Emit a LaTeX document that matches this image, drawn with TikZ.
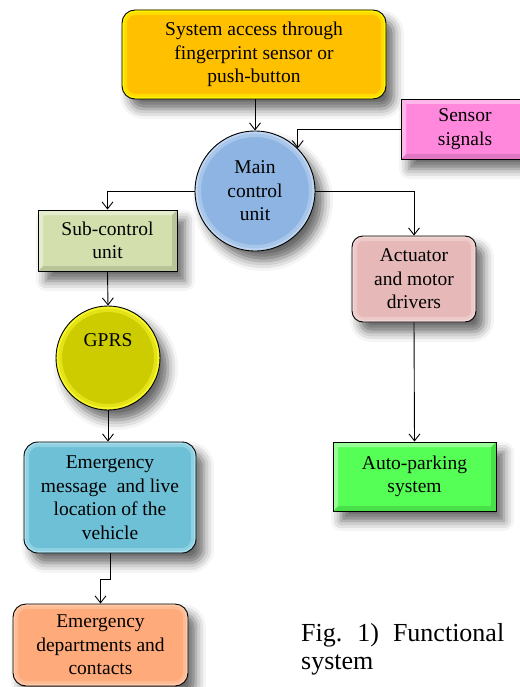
\documentclass[tikz,border=0pt]{standalone}
\usepackage{fontspec}
\setmainfont{Liberation Serif}
\newfontfamily\tnr{Liberation Serif}
\usetikzlibrary{arrows.meta,shadows.blur}
\definecolor{cTop}{HTML}{FFC000}
\definecolor{cTopG}{HTML}{FFFF00}
\definecolor{cSens}{HTML}{FF88DD}
\definecolor{cMain}{HTML}{8DB4E2}
\definecolor{cMainG}{HTML}{C8DCF4}
\definecolor{cSub}{HTML}{D3E0AE}
\definecolor{cGprs}{HTML}{CCCC00}
\definecolor{cGprsG}{HTML}{FFFF33}
\definecolor{cEmsg}{HTML}{6EC0D6}
\definecolor{cEmsgG}{HTML}{B4E6F2}
\definecolor{cDept}{HTML}{FFAA7A}
\definecolor{cDeptG}{HTML}{FFD2B4}
\definecolor{cAct}{HTML}{E6B9B8}
\definecolor{cActG}{HTML}{F6DEDE}
\definecolor{cPark}{HTML}{55FF55}
\begin{document}
\begin{tikzpicture}[x=1pt,y=-1pt,
  shad/.style={blur shadow={shadow xshift=8pt,shadow yshift=-10pt,shadow blur radius=10pt,shadow opacity=60}},
  base/.style={draw=black,line width=0.9pt,align=center,inner sep=0pt,
    font=\tnr\fontsize{19.5}{23.5}\selectfont,shad},
  rbox/.style n args={3}{base,rectangle,rounded corners=#3,minimum width=#1,minimum height=#2},
  sbox/.style 2 args={base,rectangle,minimum width=#1,minimum height=#2,bevel},
  glowr/.style 2 args={path picture={
    \draw[#1,line width=10pt,opacity=0.45,rounded corners=#2]
      (path picture bounding box.south west) rectangle (path picture bounding box.north east);
    \draw[#1,line width=4pt,opacity=0.7,rounded corners=#2]
      (path picture bounding box.south west) rectangle (path picture bounding box.north east);}},
  glowc/.style 2 args={path picture={
    \draw[#1,line width=12pt,opacity=0.45] (path picture bounding box.center) circle (#2);
    \draw[#1,line width=5pt,opacity=0.7] (path picture bounding box.center) circle (#2);}},
  bevel/.style={path picture={
    \fill[white,opacity=0.4]
      (path picture bounding box.south west) -- (path picture bounding box.north west)
      -- (path picture bounding box.north east) -- ([shift={(-5pt,-5pt)}]path picture bounding box.north east)
      -- ([shift={(5pt,-5pt)}]path picture bounding box.north west)
      -- ([shift={(5pt,5pt)}]path picture bounding box.south west) -- cycle;
    \fill[black,opacity=0.12]
      (path picture bounding box.south west) -- (path picture bounding box.south east)
      -- (path picture bounding box.north east) -- ([shift={(-5pt,-5pt)}]path picture bounding box.north east)
      -- ([shift={(-5pt,5pt)}]path picture bounding box.south east)
      -- ([shift={(5pt,5pt)}]path picture bounding box.south west) -- cycle;}},
  arr/.style={draw=black,line width=0.9pt,-{Straight Barb[length=7pt,width=11pt,line width=0.9pt]}}
]
\useasboundingbox (0,0) rectangle (519,687);

\node[rbox={264pt}{89pt}{13pt},fill=cTop,glowr={cTopG}{13pt}] (top) at (254,54.5)
  {System access through\\fingerprint sensor or\\push-button};
\node[base,circle,minimum size=120pt,fill=cMain,glowc={cMainG}{60pt}] (main) at (255,191)
  {Main\\control\\unit};
\node[sbox={128pt}{60pt},fill=cSens] (sens) at (465,129) {Sensor\\signals};
\node[sbox={139pt}{61pt},fill=cSub] (sub) at (107.5,240.5) {Sub-control\\unit};
\node[draw=black,line width=0.9pt,circle,minimum size=104pt,inner sep=0pt,shad,
  fill=cGprs,glowc={cGprsG}{52pt},font=\tnr\fontsize{19.5}{23.5}\selectfont,
  text height=11pt,text depth=35pt] (gprs) at (108,358) {GPRS};
\node[rbox={172pt}{111pt}{14pt},fill=cEmsg,glowr={cEmsgG}{14pt}] (emsg) at (110,497.5)
  {Emergency\\message\ \ and live\\location of the\\vehicle};
\node[rbox={175pt}{82pt}{13pt},fill=cDept,glowr={cDeptG}{13pt}] (dept) at (100.5,645)
  {Emergency\\departments and\\contacts};
\node[rbox={124pt}{86pt}{11pt},fill=cAct,glowr={cActG}{11pt}] (act) at (414,279)
  {Actuator\\and motor\\drivers};
\node[sbox={163pt}{69pt},fill=cPark] (park) at (414.5,476.5) {Auto-parking\\system};

\node[anchor=north west,align=left,inner sep=0pt,font=\tnr\fontsize{26}{28}\selectfont] (cap) at (301,623)
  {Fig.\hspace{15pt}1)\hspace{14pt}Functional\\system};

\draw[arr] (main.north |- top.south) -- (main.north);
\draw[arr] (sens.west) -| (main.45);
\draw[arr] (main.west) -| (sub.north);
\draw[arr] (main.east) -| (act.north);
\draw[arr] (sub.south) -- (gprs.north);
\draw[arr] (gprs.south) -- (gprs.south |- emsg.north);
\draw[arr] (emsg.south) -- ++(0,26) -| (dept.north);
\draw[arr] (act.south) -- (park.north);
\end{tikzpicture}
\end{document}
